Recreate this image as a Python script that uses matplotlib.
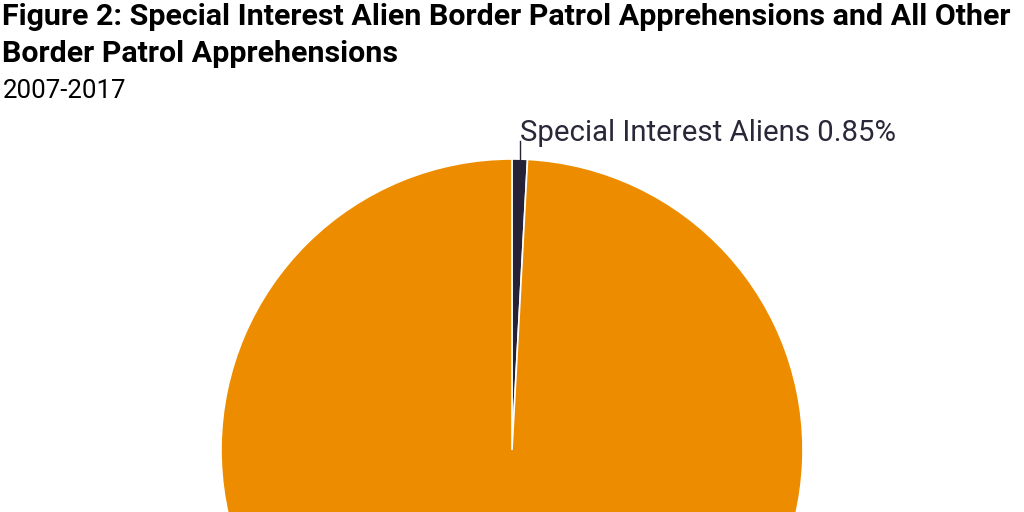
import matplotlib
matplotlib.use("Agg")
import matplotlib.pyplot as plt
from matplotlib import font_manager
import numpy as np

title_lines = ["Figure 2: Special Interest Alien Border Patrol Apprehensions and All Other",
               "Border Patrol Apprehensions"]
subtitle = "2007-2017"
categories = ["Special Interest Aliens", "All Other Border Patrol Apprehensions"]
shares = [0.85, 99.15]
colors = ["#262338", "#EE8C00"]

names = {f.name for f in font_manager.fontManager.ttflist}
title_font = "Liberation Sans Narrow" if "Liberation Sans Narrow" in names else "Roboto"
body_font = "Roboto"

W, H = 1024, 512
fig = plt.figure(figsize=(W / 100, H / 100), dpi=100)
fig.patch.set_facecolor("white")
ax = fig.add_axes([0, 0, 1, 1])
ax.set_xlim(0, W)
ax.set_ylim(0, H)
ax.set_aspect("equal")
ax.axis("off")

cx, cy, R = 512, H - 450, 291
wedges, _ = ax.pie(shares, colors=colors, startangle=90, counterclock=False,
                   center=(cx, cy), radius=R,
                   wedgeprops=dict(edgecolor="white", linewidth=1.2))
ax.set_xlim(0, W)
ax.set_ylim(0, H)

mid = np.deg2rad(90 - shares[0] / 100 * 360 / 2)
x0 = cx + R * np.cos(mid)
y0 = cy + R * np.sin(mid)
ax.plot([x0, x0], [y0, y0 + 18], color="#262338", lw=1)
lab = f"{categories[0]} {shares[0]:.2f}%"

renderer = fig.canvas.get_renderer()

def fit(t, target_w):
    for _ in range(3):
        bb = t.get_window_extent(renderer)
        t.set_fontsize(t.get_fontsize() * target_w / bb.width)

t_lab = fig.text(520 / W, 1 - 141 / H, lab, fontsize=20, family=body_font,
                 color="#2a2838", ha="left", va="baseline")
fit(t_lab, 377)

t1 = fig.text(2 / W, 1 - 25 / H, title_lines[0], fontsize=20, family=title_font,
              weight="bold", color="black", ha="left", va="baseline")
fit(t1, 1006)
t2 = fig.text(2 / W, 1 - 62 / H, title_lines[1], fontsize=t1.get_fontsize(), family=title_font,
              weight="bold", color="black", ha="left", va="baseline")
t3 = fig.text(3 / W, 1 - 98 / H, subtitle, fontsize=16, family=body_font,
              color="black", ha="left", va="baseline")
fit(t3, 124)

fig.savefig("out.png", dpi=100, facecolor="white")
